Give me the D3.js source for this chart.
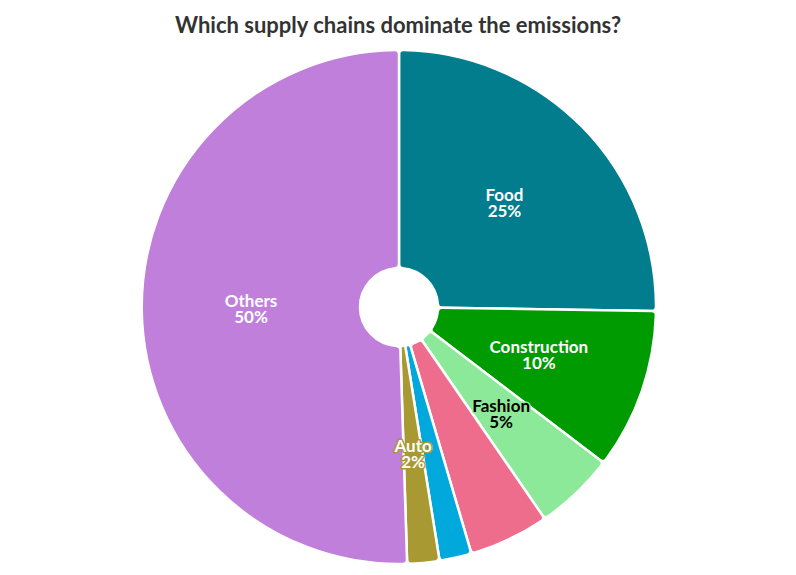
<!DOCTYPE html>
<html><head><meta charset="utf-8">
<script src="https://cdn.jsdelivr.net/npm/d3@7"></script>
<style>body{margin:0;background:#fff}svg{display:block}</style>
</head><body>
<svg id="chart" width="796" height="575"></svg>
<script>
const categories = ["Food","Construction","Fashion","FMCG","Electronics","Auto","Others"];
const values = [25,10,5,5,2,2,50];
const colors = ["#017d8d","#009b00","#8ce99a","#ee6d8d","#00a8dc","#a99933","#bf7fdb"];
const showLabel = [true,true,true,false,false,true,true];
const labelFill = ["#fff","#fff","#000","#fff","#fff","#fff","#fff"];

const svg = d3.select("#chart");
const W=796,H=575, cx=399, cy=307, R=257, r0=39;

svg.append("text").attr("x",398).attr("y",33).attr("text-anchor","middle")
  .attr("font-family","Lato, sans-serif").attr("font-weight",700).attr("font-size",22)
  .attr("fill","#333").text("Which supply chains dominate the emissions?");

const data = categories.map((c,i)=>({name:c,value:values[i],color:colors[i],show:showLabel[i],lf:labelFill[i]}));
const pie = d3.pie().value(d=>d.value).sort(null);
const arcs = pie(data);
const arc = d3.arc().innerRadius(r0).outerRadius(R).cornerRadius(4);
const g = svg.append("g").attr("transform",`translate(${cx},${cy})`);
g.selectAll("path").data(arcs).join("path").attr("d",arc)
  .attr("fill",d=>d.data.color).attr("stroke","#fff").attr("stroke-width",2.5).attr("stroke-linejoin","round");

const lr = 148;
const lab = g.selectAll("g.lab").data(arcs.filter(d=>d.data.show)).join("g").attr("class","lab")
  .attr("transform",d=>{const a=(d.startAngle+d.endAngle)/2; return `translate(${lr*Math.sin(a)},${-lr*Math.cos(a)})`;});
lab.each(function(d){
  const t = d3.select(this).append("text").attr("text-anchor","middle")
    .attr("font-family","Lato, sans-serif").attr("font-weight",700).attr("font-size",17)
    .attr("fill",d.data.lf).attr("stroke",d.data.color).attr("stroke-width",3).attr("paint-order","stroke").attr("stroke-linejoin","round");
  t.append("tspan").attr("x",0).attr("y",-2).text(d.data.name);
  t.append("tspan").attr("x",0).attr("y",14).text(Math.round(d.data.value)+"%");
});
</script>
</body></html>
